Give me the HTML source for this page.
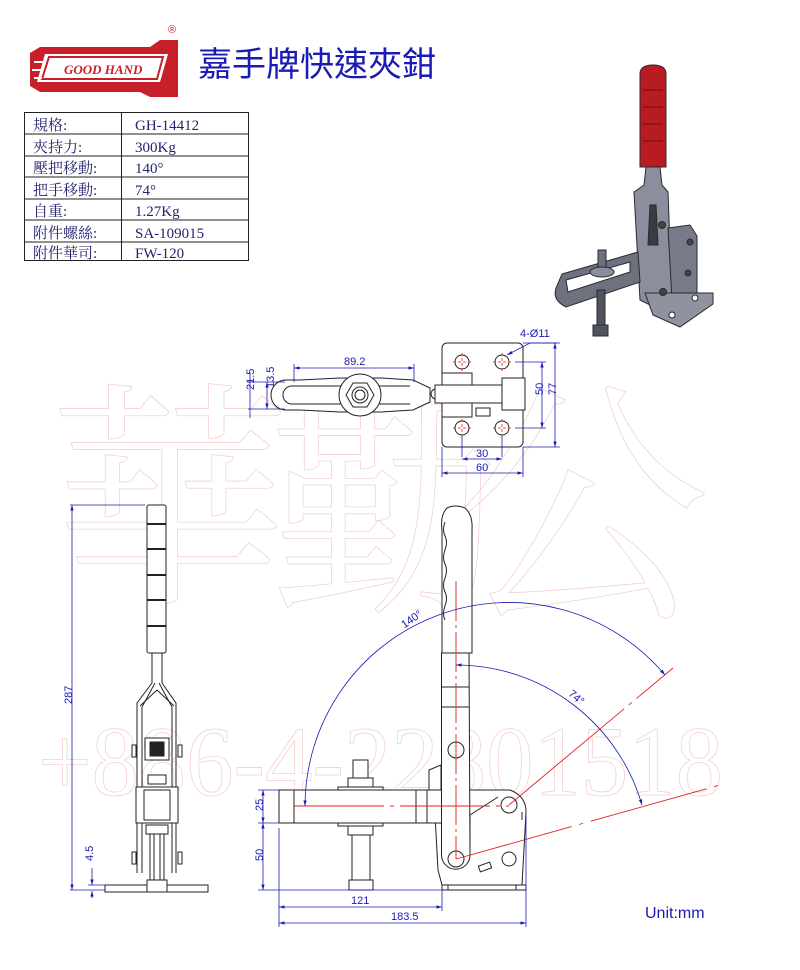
<!DOCTYPE html>
<html><head><meta charset="utf-8"><style>
html,body{margin:0;padding:0;background:#fff;}
svg{display:block}
</style></head><body>
<svg width="800" height="970" viewBox="0 0 800 970" xmlns="http://www.w3.org/2000/svg" font-family="Liberation Sans, DejaVu Sans, sans-serif">
<defs>
<marker id="ar" viewBox="0 0 10 10" refX="10" refY="5" markerWidth="7" markerHeight="7" orient="auto-start-reverse"><path d="M0,2 L10,5 L0,8 z" fill="#1a1ab4"/></marker>
</defs>
<!-- watermark -->
<g fill="none" stroke="#f3d0d0" stroke-width="0.8" font-family="Liberation Serif, Noto Serif CJK SC, serif">
<text x="50" y="585" font-size="240" font-family="Noto Serif CJK TC, Noto Serif CJK SC, serif">華</text>
<text x="270" y="595" font-size="230" font-family="Noto Serif CJK SC, serif">勤</text>
<text x="450" y="600" font-size="260" font-family="Noto Serif CJK SC, serif">公</text>
<text x="38" y="795" font-size="100" textLength="685" lengthAdjust="spacingAndGlyphs">+886-4-22801518</text>
</g>
<!-- logo -->
<g>
<path d="M40,47 L150,47 L160,40 L178,40 L178,97 L150,97 L140,92 L40,92 L30,86 L30,53 z" fill="#c8202a"/>
<path d="M45,54 L168,54 L160,82 L37,82 z" fill="#fff"/>
<path d="M49,57 L163,57 L157,79 L42,79 z" fill="none" stroke="#c8202a" stroke-width="2"/>
<path d="M34,62 L44,62 M32,70 L42,70 M34,78 L42,78" stroke="#fff" stroke-width="2"/>
<text x="64" y="74" font-size="13" font-style="italic" font-weight="bold" fill="#c8202a" font-family="Liberation Serif, serif">GOOD HAND</text>
<text x="168" y="33" font-size="11" fill="#c8202a">®</text>
</g>
<text x="198" y="76" font-size="34" fill="#1a1ab4" font-family="Liberation Sans, Noto Sans CJK TC, sans-serif">嘉手牌快速夾鉗</text>
<!-- table -->
<g stroke="#222" stroke-width="1" fill="none">
<rect x="24.5" y="112.5" width="224" height="148"/>
<line x1="121.5" y1="112" x2="121.5" y2="261"/>
<line x1="24" y1="134" x2="249" y2="134"/><line x1="24" y1="156" x2="249" y2="156"/>
<line x1="24" y1="177" x2="249" y2="177"/><line x1="24" y1="199" x2="249" y2="199"/>
<line x1="24" y1="220" x2="249" y2="220"/><line x1="24" y1="242" x2="249" y2="242"/>
</g>
<g font-size="15" fill="#23236e" font-family="Liberation Serif, Noto Serif CJK TC, serif">
<text x="33" y="130">規格:</text><text x="135" y="130">GH-14412</text>
<text x="33" y="152">夾持力:</text><text x="135" y="152">300Kg</text>
<text x="33" y="173">壓把移動:</text><text x="135" y="173">140°</text>
<text x="33" y="195">把手移動:</text><text x="135" y="195">74°</text>
<text x="33" y="216">自重:</text><text x="135" y="216">1.27Kg</text>
<text x="33" y="238">附件螺絲:</text><text x="135" y="238">SA-109015</text>
<text x="33" y="258">附件華司:</text><text x="135" y="258">FW-120</text>
</g>
<!-- 3D image -->
<g stroke="#2a2a30" stroke-width="1">
<path d="M640,74 Q640,65 653,65 Q666,65 666,74 L666,167 L640,167 z" fill="#b81c22"/>
<path d="M643,90 L663,90 M643,107 L663,107 M643,124 L663,124 M643,141 L663,141" stroke="#6a0c10"/>
<path d="M646,167 L660,167 L662,185 L668,192 L672,300 L656,308 L640,300 L634,192 L644,185 z" fill="#8b8e9c"/>
<path d="M650,205 L656,205 L658,245 L648,245 z" fill="#3a3a44"/>
<path d="M668,228 L690,225 L697,236 L697,296 L672,300 z" fill="#777a88"/>
<path d="M645,293 L713,293 L713,304 L680,327 L653,315 z" fill="#8f929f"/>
<circle cx="672" cy="315" r="3" fill="#fff"/><circle cx="695" cy="298" r="3" fill="#fff"/>
<path d="M562,274 L638,252 L640,282 L566,307 Q552,300 556,288 z" fill="#6e717e"/>
<path d="M566,280 L630,262 L630,272 L568,292 z" fill="#fff"/>
<rect x="597" y="290" width="8" height="42" fill="#50535e"/>
<rect x="593" y="325" width="15" height="11" fill="#50535e"/>
<rect x="598" y="250" width="8" height="18" fill="#6e717e"/>
<ellipse cx="602" cy="272" rx="12" ry="5" fill="#8b8e9c"/>
<circle cx="662" cy="225" r="3.5" fill="#444"/><circle cx="663" cy="292" r="3.5" fill="#444"/>
<circle cx="690" cy="242" r="3" fill="#444"/><circle cx="688" cy="273" r="3" fill="#444"/>
</g>
<!-- top view -->
<g stroke="#222" stroke-width="1" fill="#fff">
<rect x="442" y="343" width="81" height="104" rx="5"/>
<path d="M286,380 L300,380 L340,378 L380,378 L413,380 L430,388 L430,402 L413,410 L380,412 L340,412 L300,410 L286,410 A15,15 0 0 1 286,380 z"/>
<path d="M292,386 L410,386 M292,404 L410,404" fill="none"/>
<path d="M292,386 A9,9 0 0 0 292,404" fill="none"/>
<circle cx="360" cy="395" r="21"/>
<polygon points="374,395 367,407 353,407 346,395 353,383 367,383"/>
<circle cx="360" cy="395" r="8"/><circle cx="360" cy="395" r="5"/>
<circle cx="436" cy="394" r="5"/>
<rect x="442" y="373" width="30" height="44"/>
<rect x="435" y="385" width="90" height="18"/>
<rect x="502" y="378" width="23" height="32"/>
<rect x="476" y="408" width="14" height="8"/>
<circle cx="462" cy="362" r="7"/><circle cx="502" cy="362" r="7"/>
<circle cx="462" cy="428" r="7"/><circle cx="502" cy="428" r="7"/>
</g>
<g stroke="#e02020" stroke-width="0.8" stroke-dasharray="3,2">
<path d="M453,362 h18 M462,353 v18 M493,362 h18 M502,353 v18 M453,428 h18 M462,419 v18 M493,428 h18 M502,419 v18"/>
</g>
<g stroke="#1a1ab4" stroke-width="0.8" fill="none">
<line x1="294" y1="368" x2="414" y2="368" marker-start="url(#ar)" marker-end="url(#ar)"/>
<line x1="294" y1="364" x2="294" y2="382"/><line x1="414" y1="364" x2="414" y2="382"/>
<line x1="267" y1="382" x2="267" y2="409" marker-start="url(#ar)" marker-end="url(#ar)"/>
<line x1="250" y1="372" x2="250" y2="418"/>
<line x1="248" y1="382" x2="285" y2="382"/><line x1="248" y1="409" x2="285" y2="409"/>
<line x1="542" y1="362" x2="542" y2="428" marker-start="url(#ar)" marker-end="url(#ar)"/>
<line x1="555" y1="343" x2="555" y2="447" marker-start="url(#ar)" marker-end="url(#ar)"/>
<line x1="515" y1="362" x2="546" y2="362"/><line x1="515" y1="428" x2="546" y2="428"/>
<line x1="523" y1="343" x2="560" y2="343"/><line x1="523" y1="447" x2="560" y2="447"/>
<line x1="462" y1="436" x2="462" y2="457"/><line x1="502" y1="436" x2="502" y2="457"/>
<line x1="442" y1="447" x2="442" y2="477"/><line x1="523" y1="447" x2="523" y2="477"/>
<line x1="462" y1="459" x2="502" y2="459" marker-start="url(#ar)" marker-end="url(#ar)"/>
<line x1="442" y1="473" x2="523" y2="473" marker-start="url(#ar)" marker-end="url(#ar)"/>
<path d="M557,343 L530,343 L507,355" marker-end="url(#ar)"/>
</g>
<g fill="#1a1ab4" font-size="11">
<text x="344" y="365">89.2</text>
<text x="274" y="404" transform="rotate(-90 266 396)">13.5</text>
<text x="252" y="404" transform="rotate(-90 246 396)">21.5</text>
<text x="538" y="400" transform="rotate(-90 538 395)">50</text>
<text x="551" y="400" transform="rotate(-90 551 395)">77</text>
<text x="476" y="457">30</text>
<text x="476" y="471">60</text>
<text x="520" y="337">4-Ø11</text>
</g>
<!-- left view -->
<g stroke="#222" stroke-width="1" fill="#fff">
<rect x="147" y="505" width="19" height="148" rx="2"/>
<path d="M147,524 h19 M147,549 h19 M147,575 h19 M147,600 h19 M147,626 h19" stroke-width="2"/>
<path d="M152,653 L152,683 L137,703 L137,873 M162,653 L162,683 L176,703 L176,873 M155,683 L142,707 L142,873 M159,683 L172,707 L172,873" fill="none"/>
<path d="M157,690 L140,706 M157,690 L174,706" fill="none"/>
<rect x="145" y="738" width="24" height="22"/>
<rect x="150" y="742" width="14" height="14" fill="#222"/>
<rect x="148" y="775" width="18" height="9"/>
<rect x="136" y="787" width="42" height="36"/>
<rect x="144" y="790" width="26" height="30"/>
<rect x="146" y="825" width="22" height="9"/>
<path d="M150,834 L150,880 M164,834 L164,880 M154,834 L154,880 M160,834 L160,880" fill="none"/>
<rect x="132" y="745" width="4" height="12"/><rect x="178" y="745" width="4" height="12"/>
<rect x="132" y="852" width="4" height="12"/><rect x="178" y="852" width="4" height="12"/>
<rect x="105" y="885" width="103" height="7"/>
<rect x="147" y="880" width="20" height="12"/>
</g>
<g stroke="#1a1ab4" stroke-width="0.8" fill="none">
<line x1="72" y1="505" x2="72" y2="890" marker-start="url(#ar)" marker-end="url(#ar)"/>
<line x1="70" y1="505" x2="145" y2="505"/>
<line x1="70" y1="890" x2="105" y2="890"/><line x1="88" y1="885" x2="105" y2="885"/>
<line x1="92" y1="868" x2="92" y2="885" marker-end="url(#ar)"/>
<line x1="92" y1="898" x2="92" y2="891" marker-end="url(#ar)"/>
</g>
<g fill="#1a1ab4" font-size="11">
<text x="62" y="706" transform="rotate(-90 66 700)">287</text>
<text x="84" y="862" transform="rotate(-90 88 857)">4.5</text>
</g>
<!-- main side view -->
<g stroke="#222" stroke-width="1" fill="#fff">
<path d="M435,815 L441,806 L441,790 L510,790 Q526,796 526,812 L522,885 L442,885 L438,870 z"/>
<path d="M470,815 L498,797 M470,815 L470,850 M522,812 L522,820" fill="none"/>
<circle cx="509" cy="805" r="8"/>
<circle cx="509" cy="859" r="7"/>
<rect x="479" y="864" width="12" height="6" transform="rotate(-20 485 867)"/>
<rect x="442" y="885" width="84" height="5"/>
<path d="M448,885 v5 M516,885 v5" fill="none"/>
<path d="M429,770 L441,765 L441,790 L429,790 z"/>
<rect x="279" y="790" width="163" height="33"/>
<path d="M294,790 v33 M416,790 v33 M427,790 v33" fill="none"/>
<rect x="338" y="787" width="45" height="3"/>
<rect x="338" y="823" width="45" height="3"/>
<rect x="348" y="778" width="25" height="9"/>
<rect x="353" y="760" width="15" height="18"/>
<rect x="348" y="826" width="25" height="9"/>
<rect x="352" y="835" width="18" height="45"/>
<rect x="349" y="880" width="24" height="10"/>
<path d="M441.5,653 L441.5,855 A14,14 0 0 0 470,855 L469,653 z"/>
<path d="M441,687 h28 M441,707 h28" fill="none"/>
<path d="M442,653 L442,530 Q440,515 447,508 Q455,504 465,508 Q473,515 472,530 L472,653 z"/>
<path d="M445,522 q-3,8 0,14 q3,6 0,14 q-3,8 0,14 q3,6 0,14 q-3,8 0,14 q3,6 0,14 q-3,8 0,14" fill="none"/>
<circle cx="456" cy="750" r="8"/>
<circle cx="456" cy="859" r="8"/>
</g>
<g stroke="#e02020" stroke-width="0.9" fill="none">
<line x1="456" y1="581" x2="456" y2="859" stroke-dasharray="40,4,3,4"/>
<line x1="294" y1="806" x2="509" y2="806" stroke-dasharray="90,6,4,6"/>
<line x1="456" y1="859" x2="720" y2="785" stroke-dasharray="120,8,4,8"/>
<line x1="509" y1="805" x2="673" y2="668" stroke-dasharray="150,6,4,6"/>
</g>
<g stroke="#1a1ab4" stroke-width="0.8" fill="none">
<path d="M305,806 A204,204 0 0 1 665,675" marker-start="url(#ar)" marker-end="url(#ar)"/>
<path d="M456,665 A194,194 0 0 1 642,805" marker-start="url(#ar)" marker-end="url(#ar)"/>
<line x1="263" y1="790" x2="263" y2="823" marker-start="url(#ar)" marker-end="url(#ar)"/>
<line x1="263" y1="823" x2="263" y2="890" marker-start="url(#ar)" marker-end="url(#ar)"/>
<line x1="258" y1="790" x2="279" y2="790"/><line x1="258" y1="823" x2="279" y2="823"/>
<line x1="258" y1="890" x2="442" y2="890"/>
<line x1="279" y1="828" x2="279" y2="927"/>
<line x1="442" y1="890" x2="442" y2="911"/>
<line x1="526" y1="815" x2="526" y2="927"/>
<line x1="279" y1="907" x2="442" y2="907" marker-start="url(#ar)" marker-end="url(#ar)"/>
<line x1="279" y1="923" x2="526" y2="923" marker-start="url(#ar)" marker-end="url(#ar)"/>
</g>
<g fill="#1a1ab4" font-size="11">
<text x="400" y="625" transform="rotate(-35 408 620)">140°</text>
<text x="568" y="700" transform="rotate(40 575 697)">74°</text>
<text x="254" y="812" transform="rotate(-90 258 807)">25</text>
<text x="254" y="862" transform="rotate(-90 258 857)">50</text>
<text x="351" y="904">121</text>
<text x="391" y="920">183.5</text>
<text x="645" y="918" font-size="16">Unit:mm</text>
</g>
</svg>
</body></html>
